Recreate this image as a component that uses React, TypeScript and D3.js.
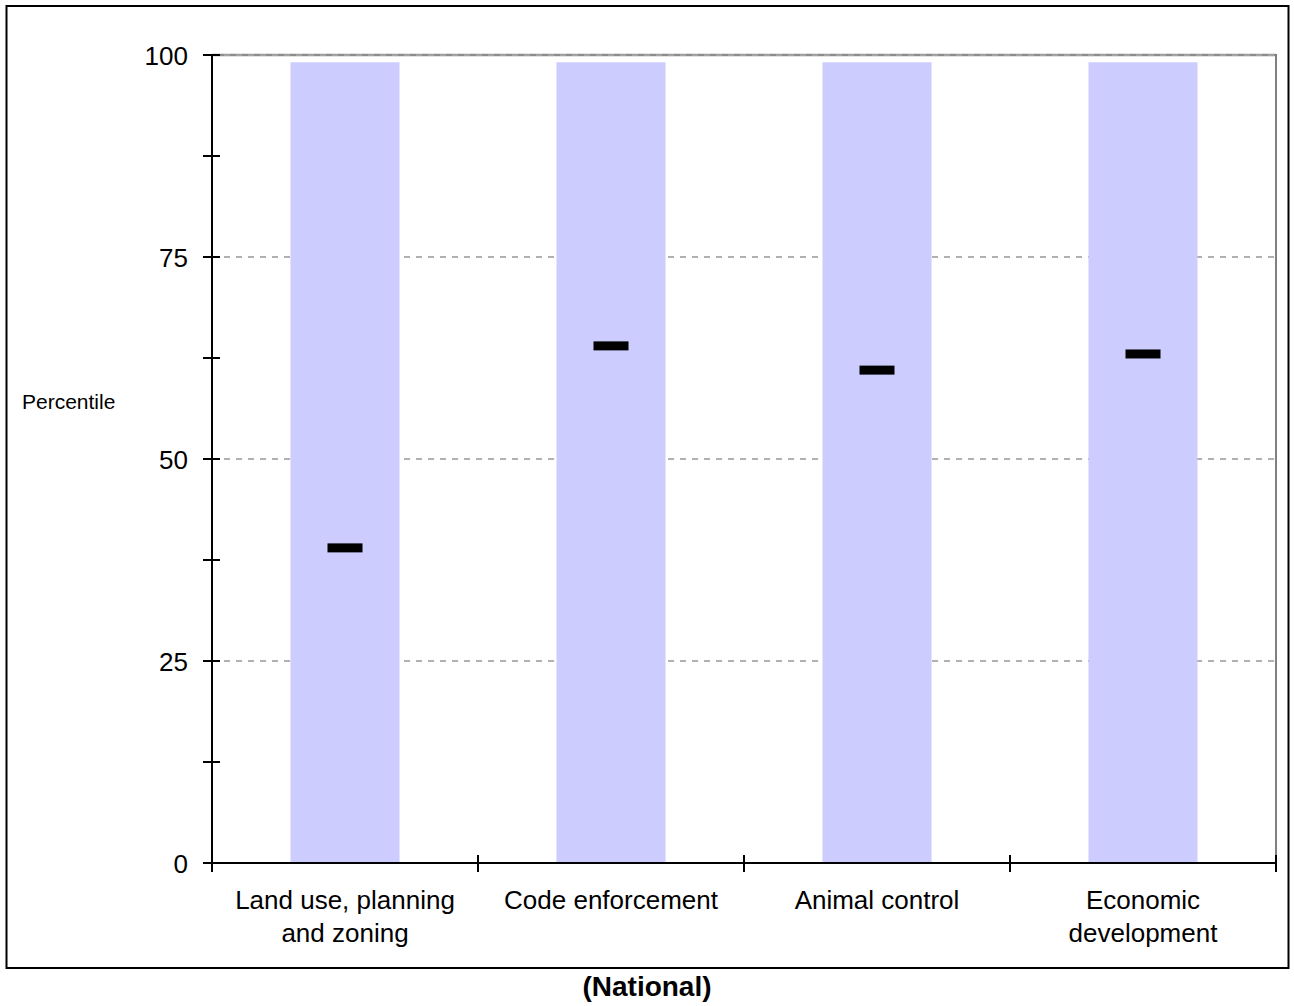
import React from "react";
import * as d3 from "d3";

const categories = ["Land use, planning|and zoning", "Code enforcement", "Animal control", "Economic|development"];
const rangeTop = [99.1, 99.1, 99.1, 99.1];
const rangeBottom = [0, 0, 0, 0];
const markerValues = [39, 64, 61, 63];
const majorTicks = [0, 25, 50, 75, 100];
const minorTicks = [12.5, 37.5, 62.5, 87.5];

export default function App() {
  const W = 1294, H = 1006;
  const left = 212, right = 1276, top = 55, bottom = 863;
  const x = d3.scaleBand<string>().domain(categories).range([left, right]).paddingInner(0).paddingOuter(0);
  const y = d3.scaleLinear().domain([0, 100]).range([bottom, top]);
  const bw = x.bandwidth() * 0.41;
  const font = "Liberation Sans, Arial, sans-serif";
  const boundaries = categories.map((c) => x(c) as number).concat([right]);

  return (
    <svg width={W} height={H} style={{ position: "absolute", left: 0, top: 0 }} fontFamily={font}>
      <rect x={0} y={0} width={W} height={H} fill="#fff" />
      <rect x={6.5} y={6} width={1282} height={962} fill="none" stroke="#000" strokeWidth={2} />
      {/* gridlines */}
      {majorTicks.filter((t) => t > 0).map((t) => (
        <line key={t} x1={left} x2={right} y1={y(t)} y2={y(t)} stroke="#b0b0b0" strokeWidth={2} strokeDasharray="6,6" />
      ))}
      {/* bars */}
      {categories.map((c, i) => (
        <rect key={c} x={(x(c) as number) + (x.bandwidth() - bw) / 2} y={y(rangeTop[i])} width={bw}
          height={y(rangeBottom[i]) - y(rangeTop[i])} fill="#ccccff" />
      ))}
      {/* markers */}
      {categories.map((c, i) => (
        <rect key={c + "m"} x={(x(c) as number) + x.bandwidth() / 2 - 17.5} y={y(markerValues[i]) - 4.5} width={35} height={9} fill="#000" />
      ))}
      {/* plot border top/right */}
      <line x1={left} x2={right} y1={top} y2={top} stroke="#8c8c8c" strokeWidth={2.5} />
      <line x1={left} x2={right} y1={top} y2={top} stroke="#b8b8b8" strokeWidth={1} strokeDasharray="6,6" />
      <line x1={right} x2={right} y1={top - 1} y2={bottom} stroke="#808080" strokeWidth={2} />
      {/* y axis */}
      <line x1={left} x2={left} y1={top} y2={bottom} stroke="#000" strokeWidth={2} />
      {majorTicks.map((t) => (
        <g key={t}>
          <line x1={left - 9} x2={left + 8} y1={y(t)} y2={y(t)} stroke="#000" strokeWidth={2} />
          <text x={188} y={y(t) + 9.5} textAnchor="end" fontSize={26}>{t}</text>
        </g>
      ))}
      {minorTicks.map((t) => (
        <line key={t} x1={left - 9} x2={left + 8} y1={y(t)} y2={y(t)} stroke="#000" strokeWidth={2} />
      ))}
      {/* x axis */}
      <line x1={left} x2={right} y1={bottom} y2={bottom} stroke="#000" strokeWidth={2} />
      {boundaries.map((b, i) => (
        <line key={i} x1={b} x2={b} y1={bottom - 8} y2={bottom + 9} stroke="#000" strokeWidth={2} />
      ))}
      {categories.map((c) => {
        const lines = c.split("|");
        const cx = (x(c) as number) + x.bandwidth() / 2;
        return (
          <text key={c + "l"} x={cx} y={909} textAnchor="middle" fontSize={26}>
            {lines.map((l, j) => (
              <tspan key={j} x={cx} dy={j === 0 ? 0 : 33}>{l}</tspan>
            ))}
          </text>
        );
      })}
      <text x={22} y={409} fontSize={21}>Percentile</text>
      <text x={647} y={996} textAnchor="middle" fontSize={28} fontWeight="bold">(National)</text>
    </svg>
  );
}
